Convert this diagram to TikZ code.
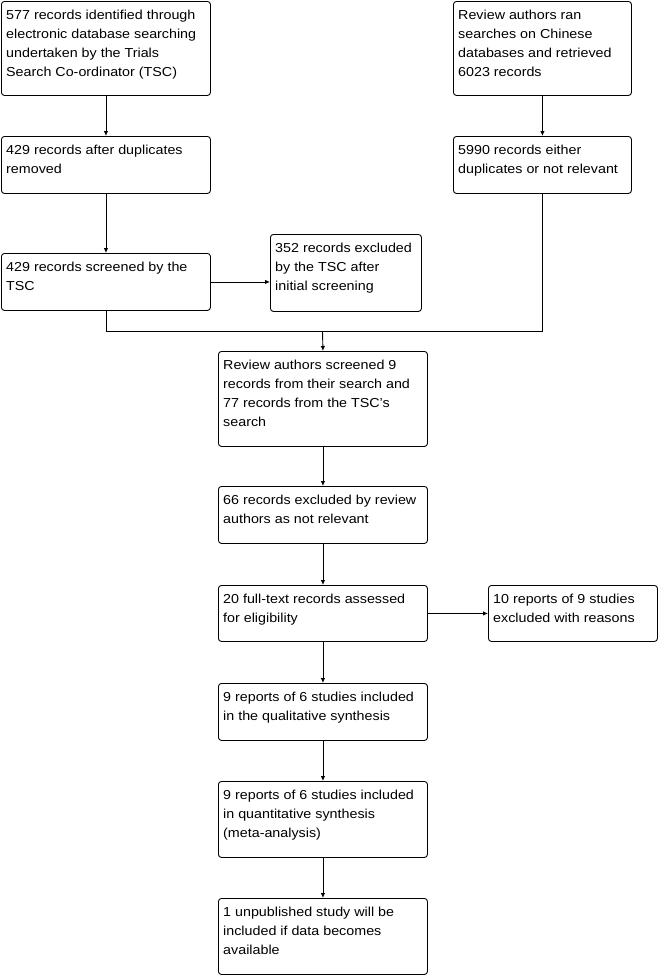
\documentclass[tikz,border=0pt]{standalone}
\usepackage{fontspec}
\setmainfont{Liberation Sans}[FakeStretch=1.1]
\usetikzlibrary{arrows.meta,calc}
\begin{document}
\begin{tikzpicture}[x=1pt,y=-1pt,
  box/.style={draw=black,line width=0.9pt,rounded corners=3pt,anchor=north west,inner sep=0pt},
  txt/.style={anchor=north west,inner sep=0pt,align=left,font=\fontsize{13}{19}\selectfont},
  arr/.style={line width=0.9pt,-{Latex[length=5pt,width=4.5pt]}},
  ln/.style={line width=0.9pt}]
\useasboundingbox (0,0) rectangle (660,975);
% boxes
\node[box,minimum width=209pt,minimum height=94pt] (b1) at (1,1) {};
\node[box,minimum width=178pt,minimum height=94pt] (b2) at (453,1) {};
\node[box,minimum width=209pt,minimum height=57pt] (b3) at (1,136) {};
\node[box,minimum width=178pt,minimum height=57pt] (b4) at (453,136) {};
\node[box,minimum width=209pt,minimum height=57pt] (b5) at (1,253) {};
\node[box,minimum width=151pt,minimum height=77pt] (b6) at (270,234) {};
\node[box,minimum width=209pt,minimum height=95pt] (b7) at (218,351) {};
\node[box,minimum width=209pt,minimum height=57pt] (b8) at (218,486) {};
\node[box,minimum width=209pt,minimum height=56pt] (b9) at (218,585) {};
\node[box,minimum width=169pt,minimum height=56pt] (b10) at (488,585) {};
\node[box,minimum width=209pt,minimum height=57pt] (b11) at (218,683) {};
\node[box,minimum width=209pt,minimum height=76pt] (b12) at (218,781) {};
\node[box,minimum width=209pt,minimum height=76pt] (b13) at (218,898) {};
% texts
\node[txt] (t1) at ([shift={(5,9)}]b1.north west) {577 records identified through\\electronic database searching\\undertaken by the Trials\\Search Co-ordinator (TSC)};
\node[txt] (t2) at ([shift={(5,9)}]b2.north west) {Review authors ran\\searches on Chinese\\databases and retrieved\\6023 records};
\node[txt] (t3) at ([shift={(5,9)}]b3.north west) {429 records after duplicates\\removed};
\node[txt] (t4) at ([shift={(5,9)}]b4.north west) {5990 records either\\duplicates or not relevant};
\node[txt] (t5) at ([shift={(5,9)}]b5.north west) {429 records screened by the\\TSC};
\node[txt] (t6) at ([shift={(5,9)}]b6.north west) {352 records excluded\\by the TSC after\\initial screening};
\node[txt] (t7) at ([shift={(5,9)}]b7.north west) {Review authors screened 9\\records from their search and\\77 records from the TSC's\\search};
\node[txt] (t8) at ([shift={(5,9)}]b8.north west) {66 records excluded by review\\authors as not relevant};
\node[txt] (t9) at ([shift={(5,9)}]b9.north west) {20 full-text records assessed\\for eligibility};
\node[txt] (t10) at ([shift={(5,9)}]b10.north west) {10 reports of 9 studies\\excluded with reasons};
\node[txt] (t11) at ([shift={(5,9)}]b11.north west) {9 reports of 6 studies included\\in the qualitative synthesis};
\node[txt] (t12) at ([shift={(5,9)}]b12.north west) {9 reports of 6 studies included\\in quantitative synthesis\\(meta-analysis)};
\node[txt] (t13) at ([shift={(5,9)}]b13.north west) {1 unpublished study will be\\included if data becomes\\available};
% connectors
\coordinate (j) at (322.5,331);
\draw[arr] (b1.south) -- (b3.north);
\draw[arr] (b2.south) -- (b4.north);
\draw[arr] (b3.south) -- (b5.north);
\draw[arr] (b5.east) -- (b5.east -| b6.west);
\draw[ln] (b5.south) -- (b5.south |- j) -- (b4.south |- j) -- (b4.south);
\draw[arr] (j) -- (b7.north);
\draw[arr] (b7.south) -- (b8.north);
\draw[arr] (b8.south) -- (b9.north);
\draw[arr] (b9.east) -- (b10.west);
\draw[arr] (b9.south) -- (b11.north);
\draw[arr] (b11.south) -- (b12.north);
\draw[arr] (b12.south) -- (b13.north);
\end{tikzpicture}
\end{document}
